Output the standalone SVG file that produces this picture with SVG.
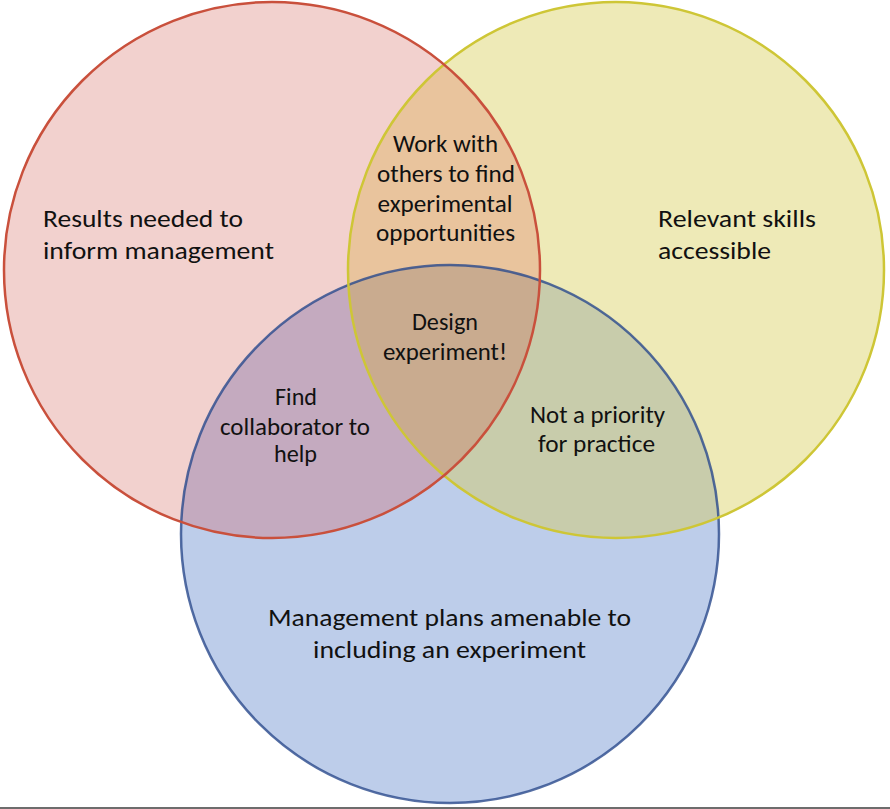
<svg xmlns="http://www.w3.org/2000/svg" width="890" height="809" viewBox="0 0 890 809">
<style>
  text { font-family: Carlito, Lato, "Open Sans", sans-serif; font-size: 24px; fill: #111; }
  .c { text-anchor: middle; }
  .edge { fill: none; stroke-width: 2.5; }
</style>
<defs>
  <circle id="cR" cx="272" cy="270" r="268"/>
  <circle id="cY" cx="616" cy="270" r="268"/>
  <circle id="cB" cx="450" cy="534" r="269"/>
  <clipPath id="clipR"><use href="#cR"/></clipPath>
  <clipPath id="clipY"><use href="#cY"/></clipPath>
</defs>
<rect width="890" height="809" fill="#ffffff"/>
<g id="fills">
  <use href="#cR" fill="#F2D1CE"/>
  <use href="#cY" fill="#EEEAB7"/>
  <use href="#cB" fill="#BDCDEA"/>
  <use href="#cY" fill="#E9C49D" clip-path="url(#clipR)"/>
  <use href="#cB" fill="#C4AABF" clip-path="url(#clipR)"/>
  <use href="#cB" fill="#C8CCAB" clip-path="url(#clipY)"/>
  <g clip-path="url(#clipY)"><use href="#cB" fill="#C9AB8F" clip-path="url(#clipR)"/></g>
</g>
<g id="outlines">
  <use href="#cB" class="edge" stroke="#2A4A8C" stroke-opacity="0.8"/>
  <use href="#cY" class="edge" stroke="#CEC636"/>
  <use href="#cR" class="edge" stroke="#C9503C"/>
</g>
<g id="node-results">
  <text x="43" y="227" textLength="200" lengthAdjust="spacingAndGlyphs">Results needed to</text>
  <text x="43" y="259" textLength="231" lengthAdjust="spacingAndGlyphs">inform management</text>
</g>
<g id="node-skills">
  <text x="658" y="227" textLength="158" lengthAdjust="spacingAndGlyphs">Relevant skills</text>
  <text x="658" y="259" textLength="113" lengthAdjust="spacingAndGlyphs">accessible</text>
</g>
<g id="node-plans">
  <text class="c" x="449.5" y="626" textLength="363" lengthAdjust="spacingAndGlyphs">Management plans amenable to</text>
  <text class="c" x="449.5" y="658" textLength="273" lengthAdjust="spacingAndGlyphs">including an experiment</text>
</g>
<g id="node-work-with-others">
  <text class="c" x="445.5" y="152" textLength="105" lengthAdjust="spacingAndGlyphs">Work with</text>
  <text class="c" x="446" y="182" textLength="138" lengthAdjust="spacingAndGlyphs">others to find</text>
  <text class="c" x="445" y="212" textLength="135" lengthAdjust="spacingAndGlyphs">experimental</text>
  <text class="c" x="445.5" y="241" textLength="139" lengthAdjust="spacingAndGlyphs">opportunities</text>
</g>
<g id="node-design">
  <text class="c" x="445" y="330" textLength="66" lengthAdjust="spacingAndGlyphs">Design</text>
  <text class="c" x="445" y="360" textLength="124" lengthAdjust="spacingAndGlyphs">experiment!</text>
</g>
<g id="node-collaborator">
  <text class="c" x="296" y="405" textLength="42" lengthAdjust="spacingAndGlyphs">Find</text>
  <text class="c" x="295" y="435" textLength="150" lengthAdjust="spacingAndGlyphs">collaborator to</text>
  <text class="c" x="295.5" y="462" textLength="43" lengthAdjust="spacingAndGlyphs">help</text>
</g>
<g id="node-not-priority">
  <text class="c" x="597.5" y="423" textLength="135" lengthAdjust="spacingAndGlyphs">Not a priority</text>
  <text class="c" x="596.5" y="452" textLength="117" lengthAdjust="spacingAndGlyphs">for practice</text>
</g>
<rect x="0" y="807" width="890" height="2" fill="#6D6D6D"/>
</svg>
